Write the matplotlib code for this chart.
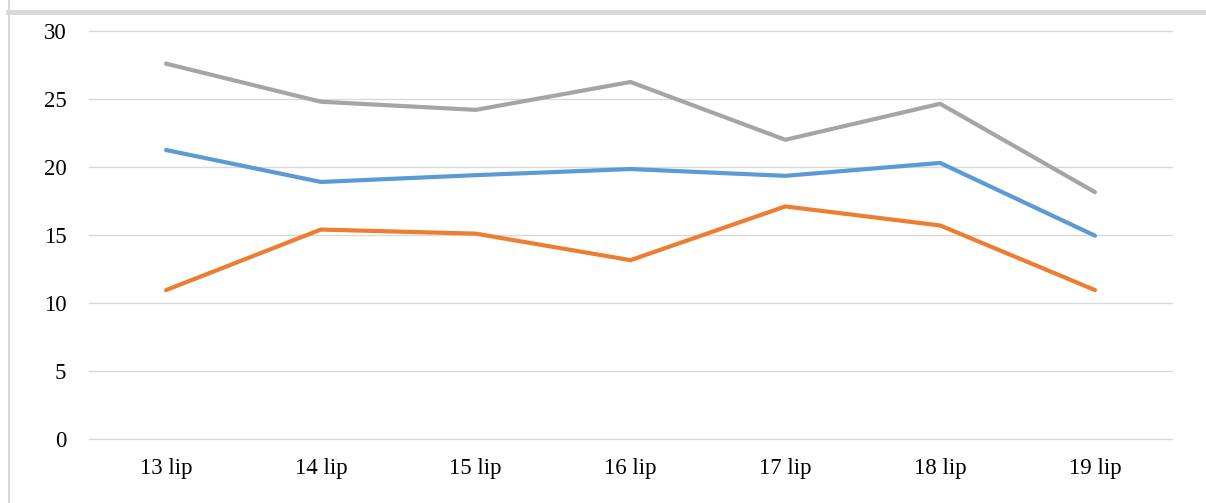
import matplotlib
matplotlib.use("Agg")
import matplotlib.pyplot as plt
from matplotlib.lines import Line2D

categories = ['13 lip', '14 lip', '15 lip', '16 lip', '17 lip', '18 lip', '19 lip']
gray_vals = [27.6, 24.8, 24.2, 26.25, 22.0, 24.65, 18.15]
blue_vals = [21.25, 18.9, 19.4, 19.85, 19.35, 20.3, 14.95]
orange_vals = [10.95, 15.4, 15.1, 13.15, 17.1, 15.7, 10.95]

plt.rcParams['font.family'] = ['Liberation Serif', 'DejaVu Serif']

W, H = 1206, 503
fig = plt.figure(figsize=(W / 100, H / 100), dpi=100)
ax = fig.add_axes([88.6 / W, (H - 439) / H, (1172.4 - 88.6) / W, (439 - 31) / H])

x = range(len(categories))
ax.plot(x, gray_vals, color='#A5A5A5', lw=3.0, solid_capstyle='round', solid_joinstyle='round', zorder=3)
ax.plot(x, blue_vals, color='#5B9BD5', lw=3.0, solid_capstyle='round', solid_joinstyle='round', zorder=3)
ax.plot(x, orange_vals, color='#ED7D31', lw=3.0, solid_capstyle='round', solid_joinstyle='round', zorder=3)

ax.set_xlim(-0.5, len(categories) - 0.5)
ax.set_ylim(0, 30)
ax.set_yticks(range(0, 31, 5))
ax.set_xticks(list(x))
ax.set_xticklabels(categories)
ax.grid(axis='y', color='#D9D9D9', lw=1.0)
for gl in ax.get_ygridlines():
    gl.set_clip_on(False)
ax.set_axisbelow(True)
for s in ax.spines.values():
    s.set_visible(False)
ax.tick_params(length=0, labelsize=16.5, colors='#000000')
ax.tick_params(axis='y', pad=16)
ax.tick_params(axis='x', pad=14)

# screenshot frame edges
fig.add_artist(Line2D([8 / W, 1], [1 - 12 / H, 1 - 12 / H], color='#D9D9D9', lw=3.5))
fig.add_artist(Line2D([8.5 / W, 8.5 / W], [0, 1], color='#D9D9D9', lw=1.5))

fig.savefig('out.png', dpi=100)
